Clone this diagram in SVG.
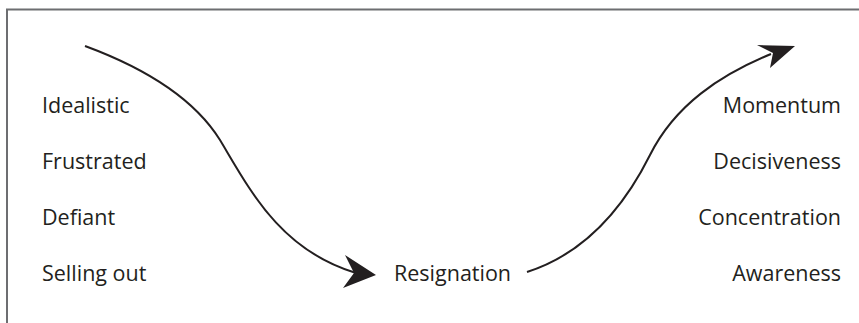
<svg xmlns="http://www.w3.org/2000/svg" width="859" height="323" viewBox="0 0 859 323">
<style>
.frame{fill:none;stroke:#6d6e71;stroke-width:2}
.lbl{font-family:"Open Sans","Noto Sans","Liberation Sans",sans-serif;font-size:21.5px;fill:#231f20}
.end{text-anchor:end}
.curve{fill:none;stroke:#231f20;stroke-width:2}
.head{fill:#231f20}
</style>
<rect width="859" height="323" fill="#ffffff"/>
<path class="frame" d="M7,323 V9.5 H859"/>
<g id="left-labels">
<g id="idealistic"><text class="lbl" x="42" y="113">Idealistic</text></g>
<g id="frustrated"><text class="lbl" x="42" y="169">Frustrated</text></g>
<g id="defiant"><text class="lbl" x="42" y="225">Defiant</text></g>
<g id="selling-out"><text class="lbl" x="42" y="281">Selling out</text></g>
</g>
<g id="resignation"><text class="lbl" x="394" y="281">Resignation</text></g>
<g id="right-labels">
<g id="momentum"><text class="lbl end" x="841" y="113">Momentum</text></g>
<g id="decisiveness"><text class="lbl end" x="841" y="169">Decisiveness</text></g>
<g id="concentration"><text class="lbl end" x="841" y="225">Concentration</text></g>
<g id="awareness"><text class="lbl end" x="841" y="281">Awareness</text></g>
</g>
<g id="connectors">
<path class="curve" d="M85,46 C150,70 195,100 220,140 C250,190 280,250 356,273"/>
<polygon class="head" points="376,275 343,288 354,273 345,255"/>
<path class="curve" d="M527,272 C580,255 620,215 650,155 C675,105 720,75 771,54"/>
<polygon class="head" points="795,46 757,45 773,53 770,68"/>
</g>
</svg>
